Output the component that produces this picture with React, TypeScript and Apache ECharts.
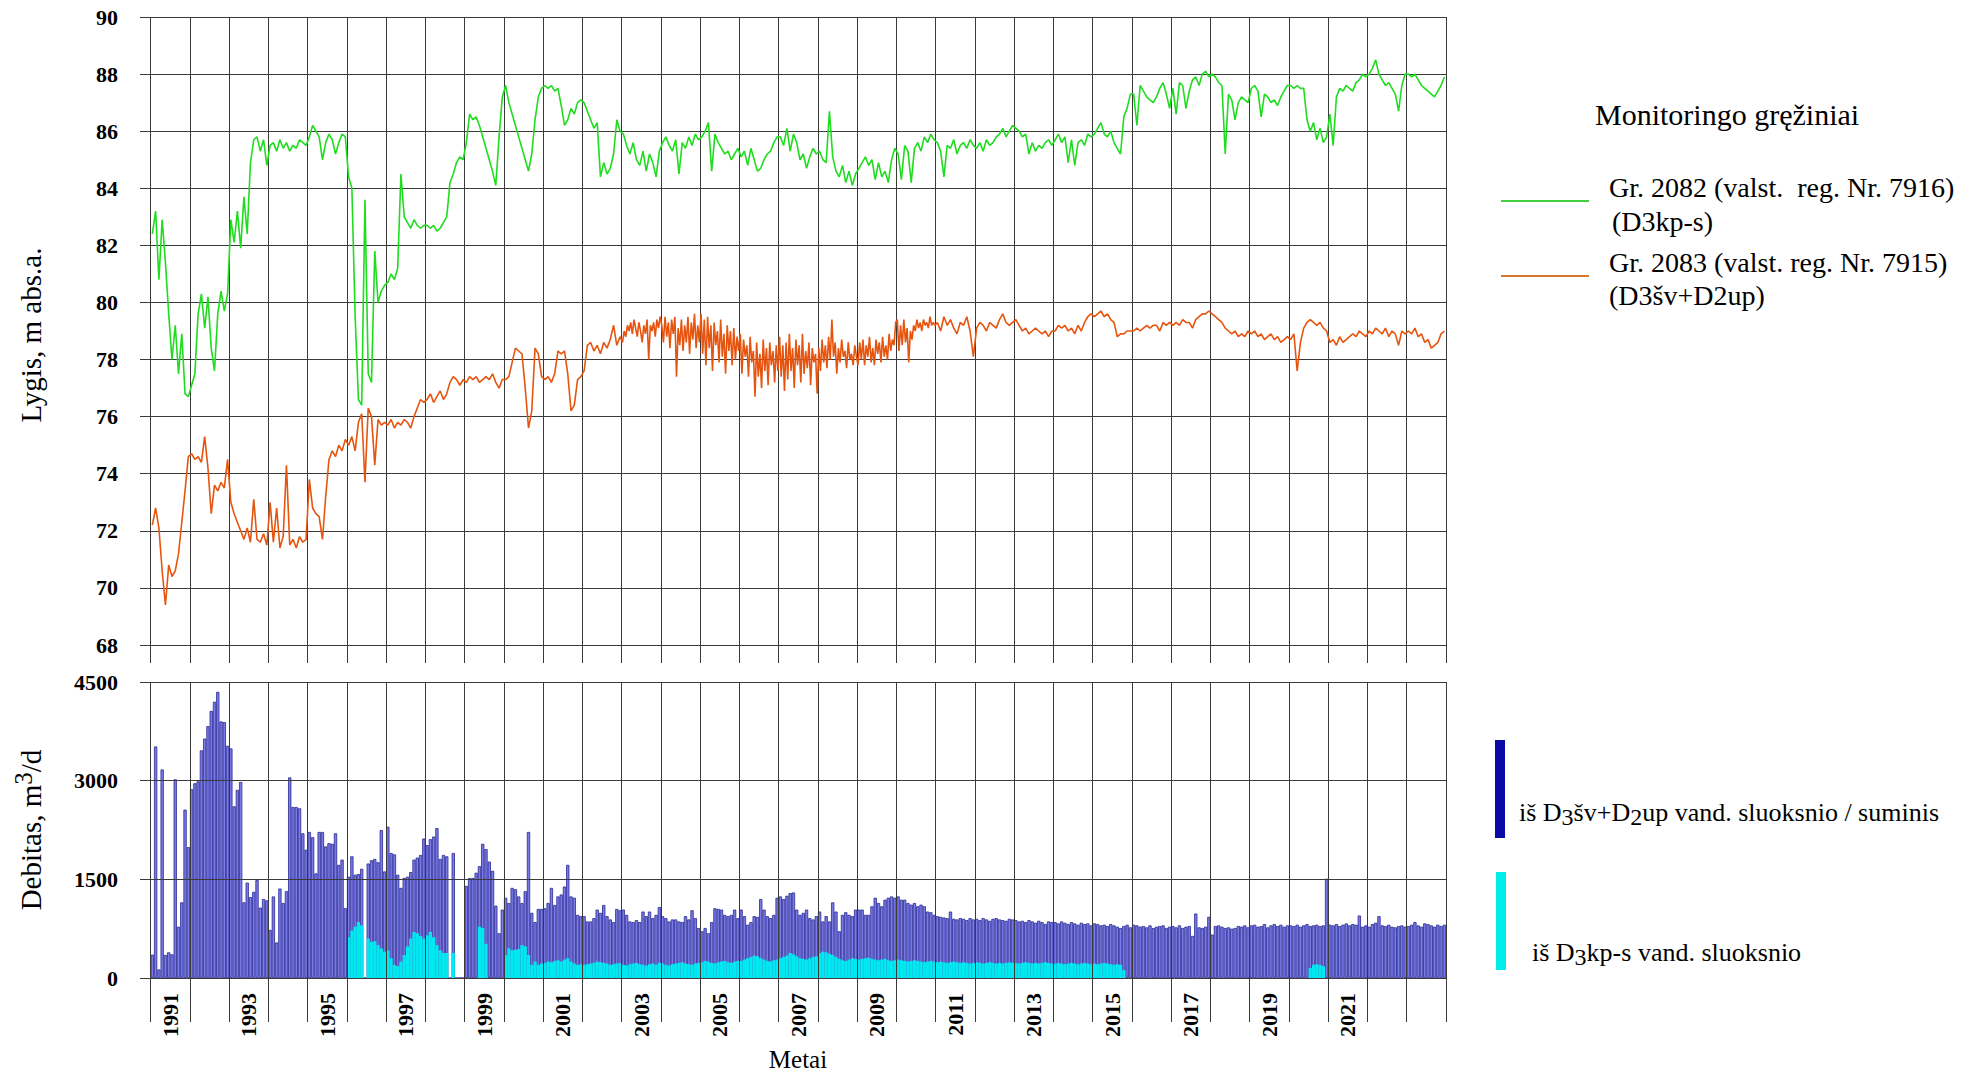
import React, { useEffect, useRef } from 'react';
import * as echarts from 'echarts';

// ---------- data ----------
const YEARS = [1991, 1992, 1993, 1994, 1995, 1996, 1997, 1998, 1999, 2000, 2001, 2002, 2003, 2004, 2005, 2006, 2007, 2008, 2009, 2010, 2011, 2012, 2013, 2014, 2015, 2016, 2017, 2018, 2019, 2020, 2021, 2022, 2023];
const GRID_YEARS = [1991, 1992, 1993, 1994, 1995, 1996, 1997, 1998, 1999, 2000, 2001, 2002, 2003, 2004, 2005, 2006, 2007, 2008, 2009, 2010, 2011, 2012, 2013, 2014, 2015, 2016, 2017, 2018, 2019, 2020, 2021, 2022, 2023, 2024];
const LABEL_YEARS = [1991, 1993, 1995, 1997, 1999, 2001, 2003, 2005, 2007, 2009, 2011, 2013, 2015, 2017, 2019, 2021];

// Gr. 2082 level (m abs.a.), one row per year, readings spread evenly within the year
const LEVEL_GR2082: number[][] = [
  [82.4, 83.2, 80.8, 82.9, 81.4, 79.6, 78.0, 79.2, 77.5, 78.9, 76.8, 76.7],
  [77.1, 77.5, 79.6, 80.3, 79.1, 80.2, 78.4, 77.6, 79.6, 80.4, 79.7, 80.3],
  [82.9, 82.1, 83.2, 81.9, 83.7, 82.4, 84.9, 85.7, 85.8, 85.3, 85.7, 84.8],
  [85.5, 85.6, 85.3, 85.7, 85.4, 85.6, 85.3, 85.5, 85.4, 85.7, 85.6, 85.5],
  [85.8, 86.2, 86.0, 85.8, 85.0, 85.6, 85.9, 85.7, 85.2, 85.6, 85.9, 85.8],
  [84.4, 84.0, 79.5, 76.6, 76.4, 83.6, 77.5, 77.2, 81.8, 80.0, 80.4, 80.6],
  [80.7, 81.0, 80.8, 81.2, 84.5, 83.0, 82.8, 82.6, 82.9, 82.7, 82.6, 82.7],
  [82.7, 82.6, 82.7, 82.5, 82.6, 82.8, 83.0, 84.2, 84.5, 84.9, 85.1, 85.0],
  [85.6, 86.6, 86.4, 86.5, 86.2, 85.8, 85.4, 85.0, 84.6, 84.1, 85.8, 87.2],
  [87.6, 87.0, 86.6, 86.2, 85.8, 85.4, 85.0, 84.6, 85.2, 86.4, 87.2, 87.5],
  [87.6, 87.5, 87.6, 87.4, 87.5, 86.9, 86.2, 86.4, 86.8, 86.6, 87.0, 87.1],
  [87.0, 86.7, 86.4, 86.1, 86.3, 84.4, 84.9, 84.5, 84.7, 85.2, 86.4, 86.0],
  [85.9, 85.5, 85.2, 85.6, 85.0, 84.8, 85.3, 84.6, 85.2, 84.9, 84.4, 85.3],
  [85.6, 85.8, 85.5, 85.3, 85.7, 84.5, 85.6, 85.4, 85.8, 85.5, 85.9, 85.7],
  [85.8, 86.0, 86.3, 84.6, 85.9, 85.6, 85.4, 85.2, 85.3, 85.0, 85.2, 85.4],
  [85.1, 85.3, 84.8, 85.4, 85.0, 84.6, 84.7, 85.0, 85.2, 85.3, 85.6, 85.8],
  [85.8, 85.5, 86.1, 85.3, 85.9, 85.6, 85.0, 85.2, 84.7, 85.1, 85.4, 85.2],
  [85.3, 85.0, 84.9, 86.7, 85.1, 84.6, 84.4, 84.8, 84.2, 84.6, 84.1, 84.5],
  [84.7, 84.9, 85.1, 84.8, 85.0, 84.3, 84.9, 84.4, 84.6, 84.2, 85.0, 85.4],
  [85.2, 84.3, 85.5, 85.3, 84.2, 85.4, 85.6, 85.3, 85.8, 85.6, 85.9, 85.7],
  [85.6, 85.3, 84.4, 85.5, 85.4, 85.7, 85.2, 85.5, 85.6, 85.4, 85.7, 85.5],
  [85.4, 85.6, 85.3, 85.7, 85.5, 85.6, 85.8, 85.9, 86.1, 85.8, 86.0, 86.2],
  [86.1, 86.0, 85.8, 85.9, 85.2, 85.6, 85.3, 85.5, 85.4, 85.6, 85.7, 85.5],
  [85.7, 85.9, 85.6, 85.8, 84.9, 85.7, 84.8, 85.6, 85.7, 85.5, 85.9, 85.8],
  [85.9, 86.1, 86.3, 85.9, 85.8, 86.0, 85.6, 85.4, 85.2, 86.5, 86.8, 87.3],
  [87.3, 86.2, 87.6, 87.4, 87.2, 87.1, 87.0, 87.2, 87.5, 87.7, 87.3, 86.8],
  [87.5, 86.6, 87.7, 87.6, 86.8, 87.4, 87.8, 87.9, 87.6, 88.0, 88.1, 87.9],
  [88.0, 87.9, 87.7, 87.6, 85.2, 87.3, 87.1, 86.4, 87.0, 87.2, 87.1, 87.0],
  [87.5, 87.6, 87.4, 86.5, 87.3, 87.2, 87.0, 87.1, 86.9, 87.2, 87.4, 87.6],
  [87.6, 87.5, 87.6, 87.5, 87.5, 86.4, 86.0, 86.3, 85.7, 86.1, 85.6, 85.8],
  [86.6, 85.5, 87.2, 87.5, 87.4, 87.6, 87.5, 87.4, 87.7, 87.8, 88.0, 87.9],
  [88.0, 88.2, 88.5, 88.0, 87.8, 87.6, 87.7, 87.5, 87.3, 86.7, 87.6, 88.0],
  [88.0, 87.9, 88.0, 87.8, 87.6, 87.5, 87.4, 87.3, 87.2, 87.4, 87.6, 87.9],
];

// Gr. 2083 level (m abs.a.)
const LEVEL_GR2083: number[][] = [
  [72.2, 72.8, 72.1, 70.6, 69.4, 70.8, 70.4, 70.6, 71.2, 72.3, 73.4, 74.6],
  [74.7, 74.5, 74.6, 74.4, 75.3, 74.2, 72.6, 73.6, 73.4, 73.7, 73.5, 74.5],
  [73.0, 72.6, 72.3, 72.0, 71.7, 72.1, 71.6, 73.1, 71.7, 71.6, 71.9, 71.5],
  [73.0, 71.6, 72.8, 71.4, 71.8, 74.3, 71.5, 71.7, 71.4, 71.8, 71.6, 71.7],
  [73.8, 72.8, 72.6, 72.5, 71.7, 73.2, 74.5, 74.8, 74.6, 75.0, 74.8, 75.2],
  [75.0, 75.3, 74.8, 75.8, 76.1, 73.7, 76.3, 76.0, 74.3, 75.9, 75.7, 75.8],
  [75.7, 75.9, 75.6, 75.8, 75.7, 75.9, 75.8, 75.6, 76.0, 76.3, 76.6, 76.5],
  [76.6, 76.8, 76.5, 76.7, 76.9, 76.6, 76.8, 77.2, 77.4, 77.3, 77.1, 77.3],
  [77.2, 77.4, 77.3, 77.4, 77.2, 77.3, 77.4, 77.3, 77.5, 77.2, 77.0, 77.3],
  [77.3, 77.4, 77.9, 78.4, 78.3, 78.2, 77.0, 75.6, 76.2, 78.4, 78.2, 77.4],
  [77.3, 77.4, 77.2, 77.5, 78.3, 78.2, 78.3, 77.5, 76.2, 76.4, 77.3, 77.4],
  [77.6, 78.5, 78.6, 78.3, 78.5, 78.2, 78.6, 78.4, 78.7, 79.2, 78.5, 78.8],
  [78.6, 79.0, 78.8, 79.2, 79.0, 79.3, 78.9, 79.4, 79.1, 78.8, 79.3, 79.0, 78.6, 79.2, 78.9, 79.4, 78.0, 79.2, 79.0, 79.3, 78.8, 79.4, 79.1, 79.5],
  [79.2, 78.6, 79.5, 78.8, 79.3, 78.4, 79.4, 78.9, 79.5, 77.4, 79.1, 78.5, 79.4, 78.3, 79.2, 78.6, 79.5, 78.2, 79.3, 78.7, 79.6, 78.4, 79.2, 78.6],
  [79.6, 78.2, 79.4, 77.8, 79.5, 78.4, 79.2, 77.6, 79.3, 78.5, 79.0, 77.9, 79.4, 78.1, 78.9, 77.5, 79.2, 78.3, 79.0, 77.8, 79.1, 78.0, 78.8, 78.3],
  [78.9, 77.5, 78.7, 78.1, 78.5, 77.4, 78.8, 77.9, 78.3, 76.7, 78.6, 77.4, 78.2, 77.0, 78.7, 77.6, 78.4, 77.1, 78.6, 77.8, 78.3, 77.2, 78.5, 77.6],
  [78.8, 77.4, 78.5, 76.9, 78.6, 77.3, 78.9, 77.6, 78.4, 77.0, 78.7, 77.8, 78.5, 77.2, 78.9, 77.5, 78.3, 77.7, 78.6, 77.1, 78.4, 77.9, 78.2, 76.8],
  [78.4, 77.6, 78.7, 77.9, 78.5, 77.7, 78.8, 78.0, 79.4, 78.1, 78.6, 77.5, 78.4, 77.9, 78.7, 78.1, 78.3, 77.7, 78.6, 78.0, 78.2, 77.8, 78.5, 78.1],
  [77.8, 78.6, 78.0, 78.7, 77.8, 78.5, 78.1, 78.8, 77.9, 78.4, 77.8, 78.7, 78.2, 78.6, 77.9, 78.8, 78.1, 78.5, 78.0, 78.9, 78.3, 78.7, 78.5, 79.3],
  [79.4, 78.3, 79.2, 78.5, 79.4, 78.6, 79.1, 77.9, 79.0, 78.7, 79.2, 79.0, 79.4, 79.1, 79.3, 79.0, 79.4, 79.2, 79.3, 79.1, 79.5, 79.2, 79.3, 79.2],
  [79.3, 79.0, 79.5, 79.2, 79.4, 79.1, 78.9, 79.3, 79.2, 79.5, 79.0, 78.1],
  [79.1, 79.3, 79.2, 79.0, 79.3, 79.2, 79.1, 79.4, 79.6, 79.3, 79.2, 79.3],
  [79.4, 79.2, 79.0, 79.1, 78.9, 79.0, 79.1, 79.0, 78.9, 79.0, 78.8, 79.0],
  [79.0, 79.2, 79.1, 79.2, 79.0, 79.1, 78.9, 79.2, 79.0, 79.3, 79.5, 79.6],
  [79.5, 79.6, 79.7, 79.5, 79.6, 79.4, 79.3, 78.8, 78.9, 78.9, 79.0, 79.0],
  [79.0, 79.1, 79.0, 79.1, 79.2, 79.1, 79.2, 79.2, 79.0, 79.3, 79.2, 79.3],
  [79.2, 79.3, 79.2, 79.4, 79.3, 79.3, 79.1, 79.4, 79.5, 79.6, 79.6, 79.7],
  [79.6, 79.5, 79.4, 79.3, 79.1, 79.0, 78.9, 79.0, 78.8, 78.9, 78.8, 79.0],
  [78.9, 79.0, 78.8, 78.9, 78.7, 78.8, 78.9, 78.7, 78.8, 78.6, 78.7, 78.8],
  [78.7, 78.9, 77.6, 78.6, 79.1, 79.3, 79.4, 79.3, 79.2, 79.3, 79.1, 79.0],
  [78.6, 78.7, 78.5, 78.8, 78.6, 78.7, 78.8, 78.9, 78.8, 79.0, 78.9, 78.8],
  [79.0, 78.9, 79.1, 79.0, 78.9, 79.1, 78.8, 79.0, 78.9, 78.5, 79.0, 78.9],
  [79.0, 78.9, 79.1, 78.8, 78.9, 78.6, 78.7, 78.4, 78.5, 78.6, 78.9, 79.0],
];

// monthly pumping rate, total / from D3šv+D2up (m3/d)
const FLOW_TOTAL: number[][] = [
  [355, 3520, 130, 3170, 350, 390, 360, 3020, 780, 1150, 2560, 1990],
  [2870, 2960, 2990, 3460, 3640, 3830, 4060, 4200, 4350, 3900, 3890, 3530],
  [3490, 2610, 2860, 2980, 1150, 1450, 1230, 1310, 1490, 1070, 1200, 1180],
  [730, 1240, 540, 1360, 1140, 1320, 3050, 2600, 2600, 2580, 2200, 1950],
  [2220, 2140, 1590, 2220, 2220, 2000, 2050, 2040, 2200, 1720, 1800, 1060],
  [1540, 1850, 1570, 1580, 1660, 0, 1740, 1790, 1810, 1760, 2250, 1620],
  [2300, 1900, 1880, 1570, 1370, 1520, 1540, 1610, 1800, 1830, 1870, 2120],
  [2020, 2110, 2150, 2280, 1810, 1870, 1850, 0, 1900, 0, 0, 0],
  [1400, 1520, 1520, 1600, 1700, 2040, 1960, 1770, 1630, 1100, 680, 1040],
  [1220, 1140, 1370, 1350, 1240, 1140, 1320, 2220, 990, 850, 1050, 1050],
  [1060, 1140, 1370, 1110, 1240, 1270, 1390, 1720, 1240, 1220, 960, 940],
  [940, 860, 860, 910, 1040, 990, 1110, 940, 890, 850, 1050, 1030],
  [1040, 960, 860, 850, 880, 850, 1010, 940, 1010, 910, 960, 1080],
  [940, 910, 860, 890, 890, 860, 850, 940, 890, 1030, 910, 760],
  [710, 760, 680, 850, 1060, 1050, 1040, 960, 940, 960, 1040, 910],
  [1040, 940, 810, 850, 940, 930, 1200, 1040, 940, 910, 960, 1220],
  [1240, 1200, 1250, 1290, 1300, 1040, 960, 990, 1040, 910, 890, 940],
  [1010, 860, 940, 860, 1150, 1010, 710, 960, 1000, 960, 940, 1040],
  [1040, 1040, 960, 960, 1090, 1220, 1140, 1090, 1190, 1220, 1240, 1220],
  [1240, 1190, 1190, 1140, 1115, 1140, 1090, 1115, 1090, 1010, 1000, 960],
  [940, 930, 920, 910, 1010, 900, 890, 910, 900, 880, 910, 890],
  [900, 880, 910, 890, 870, 900, 910, 890, 880, 870, 900, 890],
  [880, 860, 870, 850, 880, 860, 840, 870, 850, 820, 860, 850],
  [850, 830, 860, 840, 820, 850, 830, 810, 840, 820, 830, 800],
  [830, 820, 800, 810, 790, 820, 800, 780, 760, 790, 810, 770],
  [810, 800, 780, 790, 770, 800, 760, 780, 790, 800, 760, 780],
  [790, 770, 800, 760, 780, 790, 640, 980, 770, 760, 780, 930],
  [660, 790, 800, 780, 760, 770, 750, 760, 790, 780, 800, 770],
  [800, 810, 780, 790, 820, 770, 800, 820, 790, 810, 780, 800],
  [800, 790, 810, 780, 800, 820, 790, 800, 810, 790, 800, 1510],
  [810, 800, 820, 790, 810, 830, 800, 820, 810, 950, 780, 800],
  [780, 820, 840, 940, 800, 790, 810, 780, 770, 790, 800, 780],
  [790, 810, 850, 800, 780, 830, 820, 800, 780, 810, 790, 810],
];

// monthly pumping rate from D3kp-s (m3/d)
const FLOW_KPS: number[][] = [
  [0, 0, 0, 0, 0, 0, 0, 0, 0, 0, 0, 0],
  [0, 0, 0, 0, 0, 0, 0, 0, 0, 0, 0, 0],
  [0, 0, 0, 0, 0, 0, 0, 0, 0, 0, 0, 0],
  [0, 0, 0, 0, 0, 0, 0, 0, 0, 0, 0, 0],
  [0, 0, 0, 0, 0, 0, 0, 0, 0, 0, 0, 0],
  [620, 720, 780, 850, 800, 0, 600, 550, 560, 500, 450, 400],
  [420, 300, 200, 180, 250, 350, 480, 600, 700, 680, 640, 600],
  [650, 700, 620, 500, 420, 380, 380, 0, 380, 0, 0, 0],
  [0, 0, 0, 0, 780, 760, 520, 0, 0, 0, 0, 0],
  [350, 450, 420, 430, 440, 500, 480, 350, 200, 250, 200, 220],
  [230, 250, 240, 260, 270, 250, 280, 300, 250, 220, 200, 210],
  [200, 210, 220, 230, 250, 240, 230, 220, 200, 210, 220, 230],
  [200, 190, 210, 220, 230, 210, 200, 190, 210, 220, 200, 230],
  [220, 200, 190, 210, 220, 230, 240, 220, 210, 200, 220, 230],
  [240, 260, 250, 230, 220, 240, 250, 260, 240, 230, 250, 260],
  [260, 280, 300, 320, 340, 330, 300, 280, 260, 250, 270, 280],
  [300, 320, 340, 380, 360, 330, 300, 290, 280, 300, 320, 330],
  [380, 400, 390, 370, 350, 320, 290, 270, 260, 280, 300, 290],
  [280, 290, 300, 310, 290, 280, 270, 280, 290, 270, 260, 270],
  [280, 270, 260, 250, 260, 270, 260, 250, 240, 250, 260, 250],
  [240, 250, 240, 230, 240, 250, 240, 230, 240, 230, 220, 230],
  [240, 230, 220, 230, 240, 230, 220, 230, 220, 230, 240, 230],
  [230, 220, 230, 240, 230, 220, 230, 220, 230, 240, 230, 220],
  [220, 230, 220, 210, 220, 230, 220, 210, 220, 230, 220, 210],
  [220, 210, 220, 230, 220, 210, 200, 210, 200, 120, 0, 0],
  [0, 0, 0, 0, 0, 0, 0, 0, 0, 0, 0, 0],
  [0, 0, 0, 0, 0, 0, 0, 0, 0, 0, 0, 0],
  [0, 0, 0, 0, 0, 0, 0, 0, 0, 0, 0, 0],
  [0, 0, 0, 0, 0, 0, 0, 0, 0, 0, 0, 0],
  [0, 0, 0, 0, 0, 0, 150, 200, 210, 200, 180, 0],
  [0, 0, 0, 0, 0, 0, 0, 0, 0, 0, 0, 0],
  [0, 0, 0, 0, 0, 0, 0, 0, 0, 0, 0, 0],
  [0, 0, 0, 0, 0, 0, 0, 0, 0, 0, 0, 0],
];

// ---------- styling ----------
const SERIF = '"Liberation Serif", "Times New Roman", serif';
const GRID_COLOR = '#3a3a3a';
const X_MIN = 1990.727;
const X_MAX = 2024;

function spread(rows: number[][]): number[][] {
  const out: number[][] = [];
  rows.forEach((row, i) => {
    row.forEach((v, j) => {
      out.push([YEARS[i] + (j + 0.5) / row.length, v]);
    });
  });
  return out;
}

export default function App() {
  const ref = useRef<HTMLDivElement>(null);

  useEffect(() => {
    if (!ref.current) return;
    const chart = echarts.init(ref.current, null, { renderer: 'svg' });

    const labelStyle = { fontFamily: SERIF, fontWeight: 'bold', fontSize: 22, color: '#000' };
    const xCommon = {
      type: 'value',
      min: X_MIN,
      max: X_MAX,
      axisLine: { show: false },
      splitLine: { show: true, lineStyle: { color: GRID_COLOR, width: 1 } },
    };

    const option: any = {
      animation: false,
      backgroundColor: '#ffffff',
      grid: [
        { left: 140, top: 17, width: 1306, height: 628, outerBoundsMode: 'none', containLabel: false },
        { left: 140, top: 682, width: 1306, height: 296, outerBoundsMode: 'none', containLabel: false },
      ],
      xAxis: [
        {
          ...xCommon,
          gridIndex: 0,
          axisTick: { show: true, customValues: GRID_YEARS, length: 18, lineStyle: { color: GRID_COLOR, width: 1 } },
          axisLabel: { show: false },
        },
        {
          ...xCommon,
          gridIndex: 1,
          z: 10,
          axisTick: { show: true, customValues: GRID_YEARS, length: 44, lineStyle: { color: GRID_COLOR, width: 1 } },
          axisLabel: {
            show: true,
            customValues: LABEL_YEARS.map((y) => y + 0.5),
            formatter: (v: number) => String(Math.floor(v)),
            rotate: 90,
            margin: 15,
            ...labelStyle,
          },
        },
      ],
      yAxis: [
        {
          type: 'value',
          gridIndex: 0,
          min: 68,
          max: 90,
          interval: 2,
          axisLine: { show: false },
          axisTick: { show: false },
          splitLine: { show: true, lineStyle: { color: GRID_COLOR, width: 1 } },
          axisLabel: { margin: 22, formatter: (v: number) => String(v), ...labelStyle },
        },
        {
          type: 'value',
          gridIndex: 1,
          min: 0,
          max: 4500,
          interval: 1500,
          z: 10,
          axisLine: { show: false },
          axisTick: { show: false },
          splitLine: { show: true, lineStyle: { color: GRID_COLOR, width: 1 } },
          axisLabel: { margin: 22, formatter: (v: number) => String(v), ...labelStyle },
        },
      ],
      series: [
        {
          name: 'Gr. 2082',
          type: 'line',
          xAxisIndex: 0,
          yAxisIndex: 0,
          data: spread(LEVEL_GR2082),
          showSymbol: false,
          symbol: 'none',
          lineStyle: { color: '#1fdc1f', width: 1.6 },
          z: 3,
        },
        {
          name: 'Gr. 2083',
          type: 'line',
          xAxisIndex: 0,
          yAxisIndex: 0,
          data: spread(LEVEL_GR2083),
          showSymbol: false,
          symbol: 'none',
          lineStyle: { color: '#e6550f', width: 1.6 },
          z: 3,
        },
        {
          name: 'suminis',
          type: 'bar',
          xAxisIndex: 1,
          yAxisIndex: 1,
          data: spread(FLOW_TOTAL),
          barWidth: 3.27,
          barGap: '-100%',
          itemStyle: { color: '#7a7ae8', borderColor: '#2a2a92', borderWidth: 0.8 },
          z: 2,
        },
        {
          name: 'D3kp-s',
          type: 'bar',
          xAxisIndex: 1,
          yAxisIndex: 1,
          data: spread(FLOW_KPS),
          barWidth: 3.27,
          barGap: '-100%',
          itemStyle: { color: '#00e8f0' },
          z: 3,
        },
      ],
      graphic: [
        {
          type: 'text',
          x: 31,
          y: 335,
          rotation: Math.PI / 2,
          style: { text: 'Lygis, m abs.a.', fontFamily: SERIF, fontSize: 29, fill: '#000', textAlign: 'center', textVerticalAlign: 'middle' },
        },
        {
          type: 'text',
          x: 31,
          y: 830,
          rotation: Math.PI / 2,
          style: {
            text: 'Debitas, m{sup|3}/d',
            fontFamily: SERIF,
            fontSize: 29,
            lineHeight: 40,
            fill: '#000',
            textAlign: 'center',
            textVerticalAlign: 'middle',
            rich: { sup: { fontFamily: SERIF, fontSize: 25, lineHeight: 20, verticalAlign: 'top', fill: '#000' } },
          },
        },
        {
          type: 'text',
          x: 798,
          y: 1059,
          style: { text: 'Metai', fontFamily: SERIF, fontSize: 25, fill: '#000', textAlign: 'center', textVerticalAlign: 'middle' },
        },
        // legend: monitoring wells
        {
          type: 'text',
          x: 1595,
          y: 114,
          style: { text: 'Monitoringo gręžiniai', fontFamily: SERIF, fontSize: 30, fill: '#000', textAlign: 'left', textVerticalAlign: 'middle' },
        },
        { type: 'line', shape: { x1: 1501, y1: 201, x2: 1589, y2: 201 }, style: { stroke: '#3fcf3f', lineWidth: 2 } },
        {
          type: 'text',
          x: 1609,
          y: 187,
          style: { text: 'Gr. 2082 (valst.  reg. Nr. 7916)', fontFamily: SERIF, fontSize: 28, fill: '#000', textAlign: 'left', textVerticalAlign: 'middle' },
        },
        {
          type: 'text',
          x: 1612,
          y: 221,
          style: { text: '(D3kp-s)', fontFamily: SERIF, fontSize: 28, fill: '#000', textAlign: 'left', textVerticalAlign: 'middle' },
        },
        { type: 'line', shape: { x1: 1501, y1: 276, x2: 1589, y2: 276 }, style: { stroke: '#d4792a', lineWidth: 2 } },
        {
          type: 'text',
          x: 1609,
          y: 262,
          style: { text: 'Gr. 2083 (valst. reg. Nr. 7915)', fontFamily: SERIF, fontSize: 28, fill: '#000', textAlign: 'left', textVerticalAlign: 'middle' },
        },
        {
          type: 'text',
          x: 1609,
          y: 295,
          style: { text: '(D3šv+D2up)', fontFamily: SERIF, fontSize: 28, fill: '#000', textAlign: 'left', textVerticalAlign: 'middle' },
        },
        // legend: pumping
        { type: 'rect', shape: { x: 1495, y: 740, width: 10, height: 98 }, style: { fill: '#0a0aa6' } },
        {
          type: 'text',
          x: 1519,
          y: 812,
          style: {
            text: 'iš D{sub|3}šv+D{sub|2}up vand. sluoksnio / suminis',
            fontFamily: SERIF,
            fontSize: 26,
            lineHeight: 34,
            fill: '#000',
            textAlign: 'left',
            textVerticalAlign: 'middle',
            rich: { sub: { fontFamily: SERIF, fontSize: 24, lineHeight: 14, verticalAlign: 'bottom', fill: '#000' } },
          },
        },
        { type: 'rect', shape: { x: 1496, y: 872, width: 10, height: 98 }, style: { fill: '#00ecec' } },
        {
          type: 'text',
          x: 1532,
          y: 952,
          style: {
            text: 'iš D{sub|3}kp-s vand. sluoksnio',
            fontFamily: SERIF,
            fontSize: 26,
            lineHeight: 34,
            fill: '#000',
            textAlign: 'left',
            textVerticalAlign: 'middle',
            rich: { sub: { fontFamily: SERIF, fontSize: 24, lineHeight: 14, verticalAlign: 'bottom', fill: '#000' } },
          },
        },
      ],
    };

    chart.setOption(option);
    return () => {
      chart.dispose();
    };
  }, []);

  return (
    <div
      ref={ref}
      style={{ position: 'fixed', left: 0, top: 0, width: 1988, height: 1072, background: '#ffffff' }}
    />
  );
}
